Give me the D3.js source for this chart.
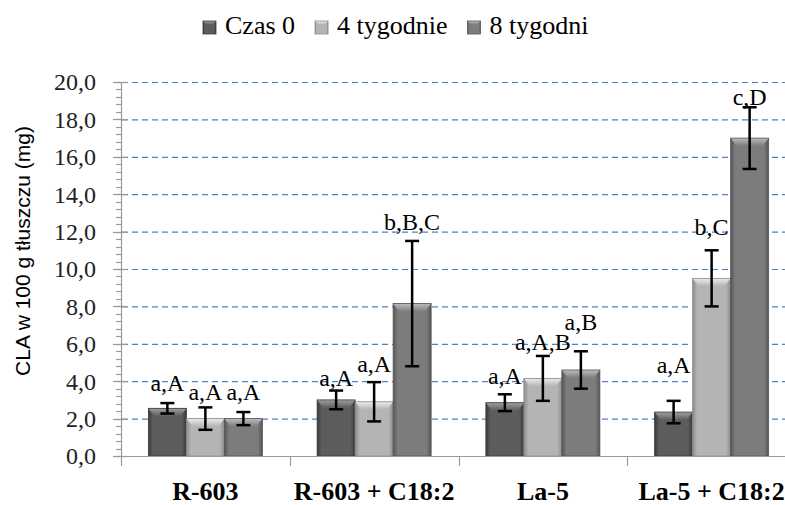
<!DOCTYPE html>
<html>
<head>
<meta charset="utf-8">
<script src="https://cdn.jsdelivr.net/npm/d3@7"></script>
<style>
  body { margin: 0; background: #fff; }
  svg { display: block; }
</style>
</head>
<body>
<div id="chart"></div>
<script>
// categories and series
var categories = ["R-603", "R-603 + C18:2", "La-5", "La-5 + C18:2"];
var seriesNames = ["Czas 0", "4 tygodnie", "8 tygodni"];

// mean values (mg CLA / 100 g fat)
var czas0     = [2.55, 3.0, 2.85, 2.35];
var tyg4      = [2.0, 2.9, 4.15, 9.5];
var tyg8      = [2.0, 8.15, 4.6, 17.0];

// error bar half widths
var err0 = [0.28, 0.5, 0.45, 0.6];
var err4 = [0.6, 1.05, 1.2, 1.5];
var err8 = [0.35, 3.35, 1.0, 1.65];

// significance letters and the value where each one sits
var lab0 = ["a,A", "a,A", "a,A", "a,A"];
var lab4 = ["a,A", "a,A", "a,A,B", "b,C"];
var lab8 = ["a,A", "b,B,C", "a,B", "c,D"];
var labAt0 = [3.5, 3.75, 3.85, 4.45];
var labAt4 = [3.0, 4.5, 5.65, 11.8];
var labAt8 = [3.0, 12.1, 6.75, 18.75];

var yTicks = [0, 2, 4, 6, 8, 10, 12, 14, 16, 18, 20];

var W = 785, H = 505;
var svg = d3.select("#chart").append("svg")
    .attr("width", W)
    .attr("height", H);

var defs = svg.append("defs");

var palette = [
    { base: "#5c5c5c", edge: "#3a3a3a", light: "#a0a0a0" },
    { base: "#b4b4b4", edge: "#8c8c8c", light: "#ececec" },
    { base: "#7c7c7c", edge: "#555555", light: "#bdbdbd" }
];

palette.forEach(function(p, i) {
    var g = defs.append("linearGradient").attr("id", "body" + i)
        .attr("x1", "0").attr("x2", "1").attr("y1", "0").attr("y2", "0");
    g.append("stop").attr("offset", "0").attr("stop-color", p.edge);
    g.append("stop").attr("offset", "0.12").attr("stop-color", p.base);
    g.append("stop").attr("offset", "0.88").attr("stop-color", p.base);
    g.append("stop").attr("offset", "1").attr("stop-color", p.edge);
    var t = defs.append("linearGradient").attr("id", "top" + i)
        .attr("x1", "0").attr("x2", "0").attr("y1", "0").attr("y2", "1");
    t.append("stop").attr("offset", "0").attr("stop-color", p.light);
    t.append("stop").attr("offset", "1").attr("stop-color", p.base);
});

var x0 = d3.scaleBand()
    .domain(categories)
    .range([121, 796])
    .padding(0);

var x1 = d3.scaleBand()
    .domain(seriesNames)
    .range([0, x0.bandwidth()])
    .paddingInner(0)
    .paddingOuter(0.72);

var y = d3.scaleLinear()
    .domain([0, 20])
    .range([456, 82]);

// gridlines
svg.append("g")
    .selectAll("line")
    .data(yTicks.slice(1))
    .enter().append("line")
    .attr("x1", 122)
    .attr("x2", W)
    .attr("y1", function(d) { return y(d) + 0.5; })
    .attr("y2", function(d) { return y(d) + 0.5; })
    .attr("stroke", "#4f81c7")
    .attr("stroke-width", 1.2)
    .attr("stroke-dasharray", "6,4");

// build table
var series = [
    { name: seriesNames[0], vals: czas0, errs: err0, labs: lab0, at: labAt0 },
    { name: seriesNames[1], vals: tyg4,  errs: err4, labs: lab4, at: labAt4 },
    { name: seriesNames[2], vals: tyg8,  errs: err8, labs: lab8, at: labAt8 }
];
var rows = [];
categories.forEach(function(c, ci) {
    series.forEach(function(s, si) {
        rows.push({ cat: c, s: s.name, si: si, v: s.vals[ci], e: s.errs[ci], lab: s.labs[ci], at: s.at[ci] });
    });
});

function drawBar(g, x, yy, w, h, si, bev, side) {
    g.append("rect")
        .attr("x", x).attr("y", yy).attr("width", w).attr("height", h)
        .attr("fill", "url(#body" + si + ")");
    g.append("polygon")
        .attr("points", [[x, yy], [x + w, yy], [x + w - side, yy + bev], [x + side, yy + bev]].join(" "))
        .attr("fill", "url(#top" + si + ")");
    g.append("rect")
        .attr("x", x).attr("y", yy).attr("width", w).attr("height", h)
        .attr("fill", "none")
        .attr("stroke", palette[si].edge)
        .attr("stroke-width", 0.8);
}

var bars = svg.append("g");
rows.forEach(function(d) {
    var bx = x0(d.cat) + x1(d.s);
    var by = y(d.v);
    drawBar(bars, bx, by, x1.bandwidth(), y(0) - by, d.si, 8, 6);
});

// error bars
var eb = svg.append("g").attr("stroke", "#000").attr("stroke-width", 2.5);
rows.forEach(function(d) {
    var cx = x0(d.cat) + x1(d.s) + x1.bandwidth() / 2;
    var top = y(d.v + d.e), bot = y(d.v - d.e);
    eb.append("line").attr("x1", cx).attr("x2", cx).attr("y1", top).attr("y2", bot);
    eb.append("line").attr("x1", cx - 7).attr("x2", cx + 7).attr("y1", top).attr("y2", top);
    eb.append("line").attr("x1", cx - 7).attr("x2", cx + 7).attr("y1", bot).attr("y2", bot);
});

// letters
svg.append("g")
    .selectAll("text")
    .data(rows)
    .enter().append("text")
    .attr("x", function(d) { return x0(d.cat) + x1(d.s) + x1.bandwidth() / 2; })
    .attr("y", function(d) { return y(d.at); })
    .attr("text-anchor", "middle")
    .attr("font-family", "'Liberation Serif', 'Times New Roman', serif")
    .attr("font-size", 24)
    .attr("fill", "#000")
    .text(function(d) { return d.lab; });

// y axis
var yAxis = svg.append("g").attr("stroke", "#9a9a9a").attr("stroke-width", 1.2);
yAxis.append("line").attr("x1", 121.5).attr("x2", 121.5).attr("y1", y(20)).attr("y2", 466);
var minor = d3.range(0, 20.01, 0.4);
yAxis.selectAll("line.minor")
    .data(minor)
    .enter().append("line")
    .attr("class", "minor")
    .attr("x1", 116).attr("x2", 121)
    .attr("y1", function(d) { return Math.round(y(d)) + 0.5; })
    .attr("y2", function(d) { return Math.round(y(d)) + 0.5; });
yAxis.selectAll("line.major")
    .data(yTicks)
    .enter().append("line")
    .attr("class", "major")
    .attr("x1", 113).attr("x2", 127)
    .attr("y1", function(d) { return Math.round(y(d)) + 0.5; })
    .attr("y2", function(d) { return Math.round(y(d)) + 0.5; });

svg.append("g")
    .selectAll("text")
    .data(yTicks)
    .enter().append("text")
    .attr("x", 96)
    .attr("y", function(d) { return y(d); })
    .attr("dy", "0.35em")
    .attr("text-anchor", "end")
    .attr("font-family", "'Liberation Serif', 'Times New Roman', serif")
    .attr("font-size", 24)
    .attr("fill", "#222")
    .text(function(d) { return d3.format(".1f")(d).replace(".", ","); });

// x axis
var xAxis = svg.append("g").attr("stroke", "#9a9a9a").attr("stroke-width", 1.2);
xAxis.append("line").attr("x1", 121).attr("x2", W).attr("y1", 456.5).attr("y2", 456.5);
xAxis.selectAll("line.tick")
    .data(categories.slice(1))
    .enter().append("line")
    .attr("class", "tick")
    .attr("x1", function(d) { return Math.round(x0(d)) + 0.5; })
    .attr("x2", function(d) { return Math.round(x0(d)) + 0.5; })
    .attr("y1", 456).attr("y2", 466);

// category names, low near the bottom edge
svg.append("g")
    .selectAll("text")
    .data(categories)
    .enter().append("text")
    .attr("x", function(d) { return x0(d) + x0.bandwidth() / 2; })
    .attr("y", 500)
    .attr("text-anchor", "middle")
    .attr("font-family", "'Liberation Serif', 'Times New Roman', serif")
    .attr("font-weight", "bold")
    .attr("font-size", 26)
    .attr("fill", "#000")
    .text(function(d) { return d; });

// y title
svg.append("text")
    .attr("transform", "translate(30,251) rotate(-90)")
    .attr("text-anchor", "middle")
    .attr("font-family", "'Liberation Sans', Arial, sans-serif")
    .attr("font-size", 21)
    .attr("fill", "#000")
    .text("CLA w 100 g tłuszczu (mg)");

// legend
var legend = svg.append("g");
var lx = 203;
seriesNames.forEach(function(name, i) {
    drawBar(legend, lx, 21, 13, 13, i, 4, 4);
    var t = legend.append("text")
        .attr("x", lx + 22)
        .attr("y", 34)
        .attr("font-family", "'Liberation Serif', 'Times New Roman', serif")
        .attr("font-size", 26)
        .attr("fill", "#000")
        .text(name);
    lx = lx + 22 + t.node().getComputedTextLength() + 20;
});
</script>
</body>
</html>
